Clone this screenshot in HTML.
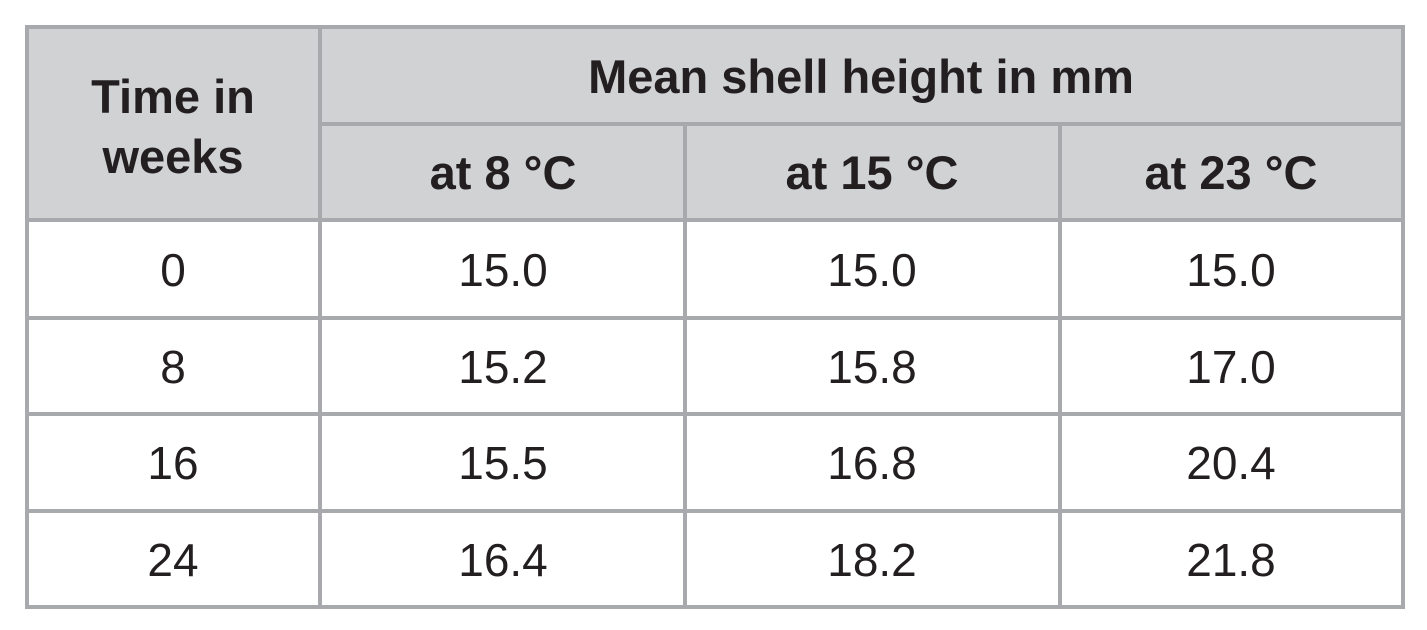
<!DOCTYPE html>
<html><head><meta charset="utf-8"><style>
body{margin:0;width:1427px;height:630px;background:#fff;position:relative;overflow:hidden;font-family:"Liberation Sans",sans-serif;color:#231f20}
.f{position:absolute;background:#d1d2d4}
.l{position:absolute;background:#a7a9ac}
.t{position:absolute;transform:translate(-50%,-50%);white-space:nowrap;font-size:46px;line-height:1}
.b{font-weight:bold;font-size:47px;text-align:center;line-height:60px}
</style></head><body>
<div class="f" style="left:27px;top:27px;width:1375px;height:193px"></div>
<div class="l" style="left:25px;top:25px;width:1380px;height:4px"></div>
<div class="l" style="left:25px;top:605px;width:1380px;height:4px"></div>
<div class="l" style="left:25px;top:25px;width:4px;height:584px"></div>
<div class="l" style="left:1401px;top:25px;width:4px;height:584px"></div>
<div class="l" style="left:318px;top:25px;width:4px;height:584px"></div>
<div class="l" style="left:683px;top:122px;width:4px;height:487px"></div>
<div class="l" style="left:1058px;top:122px;width:4px;height:487px"></div>
<div class="l" style="left:318px;top:122px;width:1087px;height:4px"></div>
<div class="l" style="left:25px;top:218px;width:1380px;height:4px"></div>
<div class="l" style="left:25px;top:316px;width:1380px;height:4px"></div>
<div class="l" style="left:25px;top:412px;width:1380px;height:4px"></div>
<div class="l" style="left:25px;top:509px;width:1380px;height:4px"></div>

<div class="t b" style="left:173px;top:127px">Time in<br>weeks</div>
<div class="t b" style="left:861px;top:77px">Mean shell height in mm</div>
<div class="t b" style="left:503px;top:173px">at 8 °C</div>
<div class="t b" style="left:872px;top:173px">at 15 °C</div>
<div class="t b" style="left:1231px;top:173px">at 23 °C</div>

<div class="t" style="left:173px;top:270px">0</div>
<div class="t" style="left:503px;top:270px">15.0</div>
<div class="t" style="left:872px;top:270px">15.0</div>
<div class="t" style="left:1231px;top:270px">15.0</div>
<div class="t" style="left:173px;top:367px">8</div>
<div class="t" style="left:503px;top:367px">15.2</div>
<div class="t" style="left:872px;top:367px">15.8</div>
<div class="t" style="left:1231px;top:367px">17.0</div>
<div class="t" style="left:173px;top:463px">16</div>
<div class="t" style="left:503px;top:463px">15.5</div>
<div class="t" style="left:872px;top:463px">16.8</div>
<div class="t" style="left:1231px;top:463px">20.4</div>
<div class="t" style="left:173px;top:560px">24</div>
<div class="t" style="left:503px;top:560px">16.4</div>
<div class="t" style="left:872px;top:560px">18.2</div>
<div class="t" style="left:1231px;top:560px">21.8</div>
</body></html>
